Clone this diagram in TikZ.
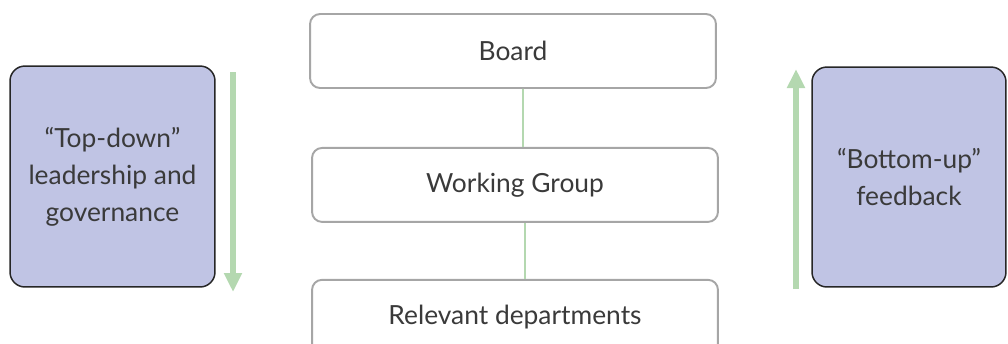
\documentclass[tikz,border=0pt]{standalone}
\usepackage{fontspec}
\setmainfont{Lato}
\usepackage{tikz}
\usetikzlibrary{arrows.meta,positioning}

\definecolor{lila}{HTML}{C0C4E4}
\definecolor{verde}{HTML}{B4D8B0}
\definecolor{borde}{HTML}{A6A6A6}
\definecolor{texto}{HTML}{3A3A3A}

\begin{document}
\begin{tikzpicture}[x = 0.02cm, y = -0.02cm,
    caja/.style = {draw = borde, line width = 1.1pt, rounded corners = 5.7pt, fill = white, minimum width = 8.12cm, minimum height = 1.48cm, inner sep = 0pt, text = texto, font = \fontsize{15}{21}\selectfont},
    lado/.style = {draw = black!85, line width = 0.85pt, rounded corners = 8.5pt, fill = lila, inner sep = 0pt, align = center, text = texto, font = \fontsize{15}{21}\selectfont},
    flecha/.style = {draw = verde, line width = 2.9pt, -{Triangle[width = 0.34cm, length = 0.38cm]}},
    conector/.style = {draw = verde, line width = 1.1pt}]

    % Marco de la figura (la caja de abajo queda cortada).
    \clip (0, 0) rectangle (1008, 343);

    % Cajas centrales:
    \node[caja] (board) at (513, 51) {Board};
    \node[caja, below = 1.16cm of board, xshift = 0.04cm] (wg) {Working Group};
    \node[caja, below = 1.12cm of wg] (rd) {Relevant departments};

    \draw[conector] ([xshift = 0.2cm]board.south) -- ([xshift = 0.16cm]wg.north);
    \draw[conector] ([xshift = 0.2cm]wg.south) -- ([xshift = 0.2cm]rd.north);

    % Cajas laterales.
    \node[lado, minimum width = 4.1cm, minimum height = 4.42cm] (arriba) at (112.5, 176.5) {“Top-down”\\leadership and\\governance};
    \node[lado, minimum width = 3.88cm, minimum height = 4.4cm] (abajo) at (909, 177) {“Bottom-up”\\feedback};

    % Flechas verdes:
    \coordinate (bajaI) at (233, 72);
    \coordinate (bajaF) at (233, 292);
    \draw[flecha] (bajaI) -- (bajaF);

    \coordinate (subeI) at (796, 289);
    \coordinate (subeF) at (796, 69);
    \draw[flecha] (subeI) -- (subeF);

\end{tikzpicture}
\end{document}
